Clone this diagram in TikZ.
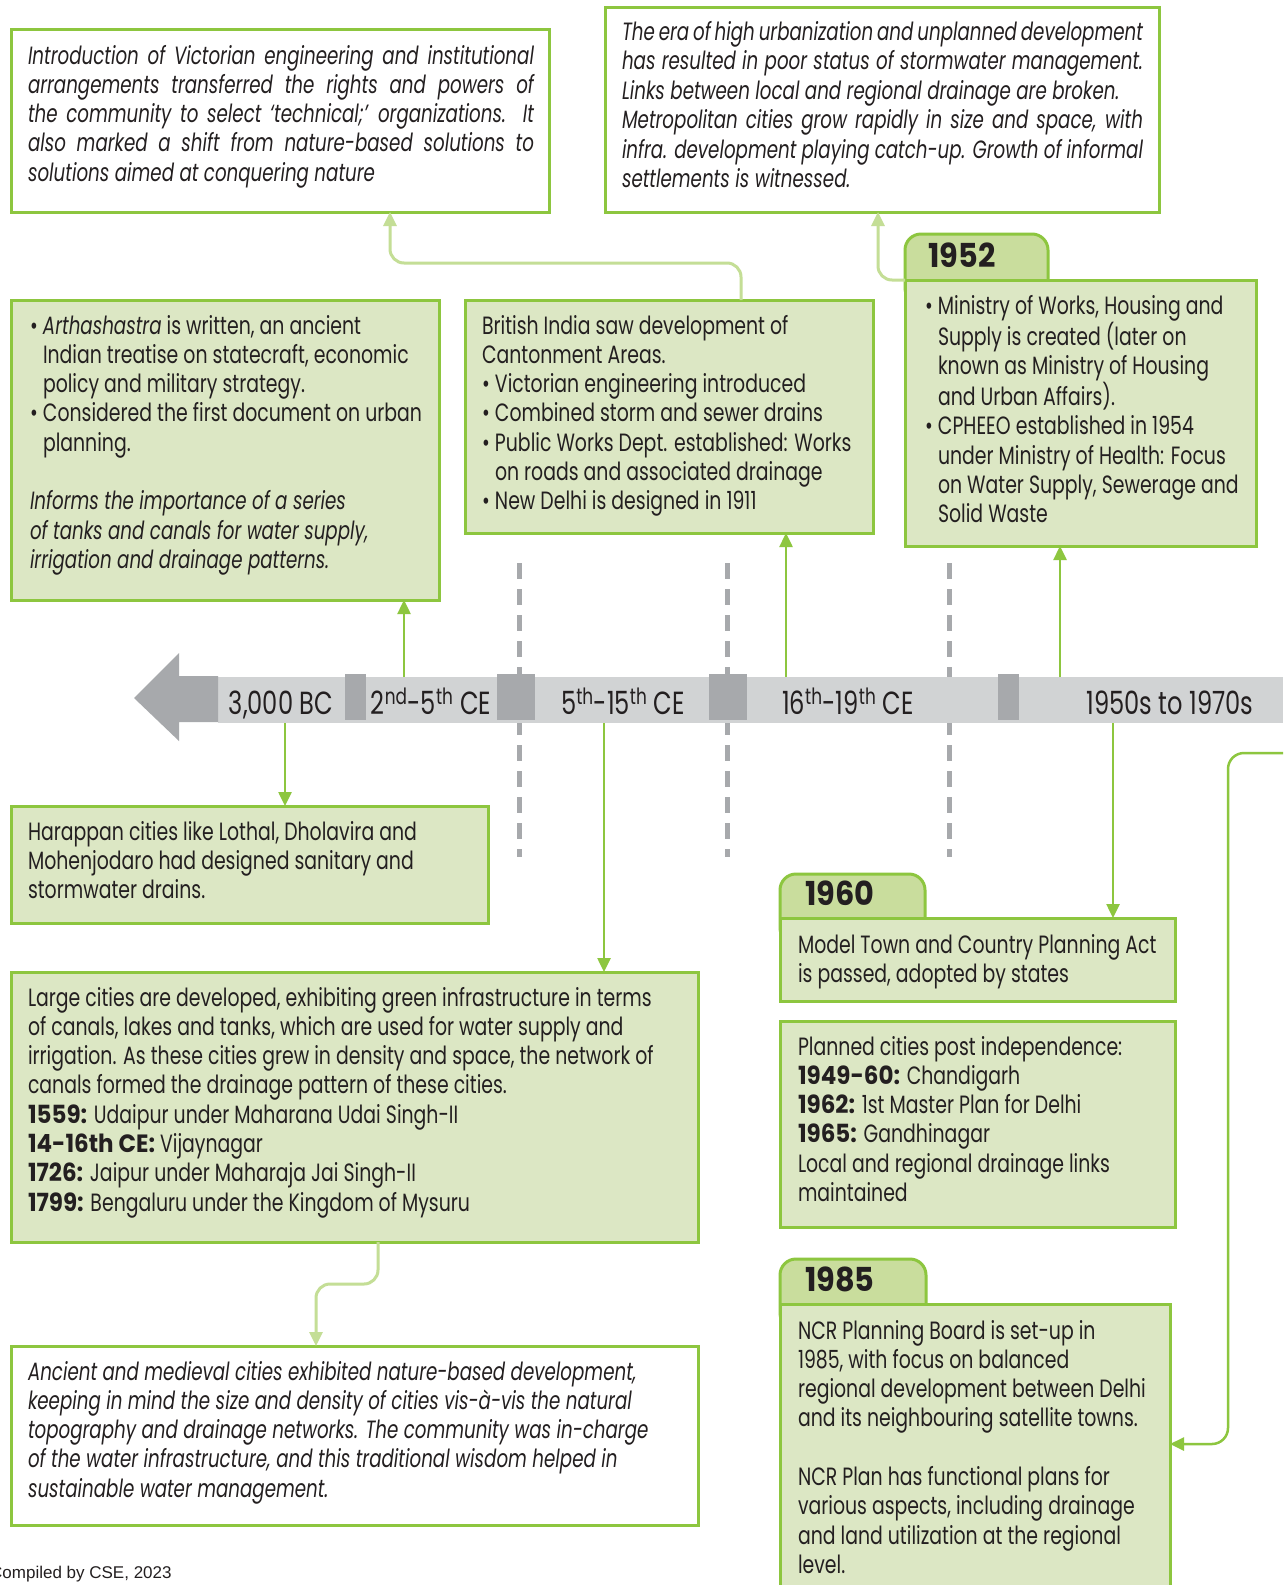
\documentclass[tikz,border=0pt]{standalone}
\usepackage{fontspec}
\setmainfont{Poppins}[FakeStretch=0.755]
\newfontface\heavyface{Poppins Bold}[FakeStretch=0.92]
\newfontface\slantface{Poppins Italic}[FakeStretch=0.73]
\newfontfamily\notefont{Liberation Sans}
\usetikzlibrary{arrows.meta}

\definecolor{leaf}{HTML}{8DC63F}
\definecolor{pale}{HTML}{DCE7C4}
\definecolor{sage}{HTML}{C9DD9D}
\definecolor{mist}{HTML}{C4DE96}
\definecolor{haze}{HTML}{D1D3D4}
\definecolor{slate}{HTML}{A7A9AC}
\definecolor{ink}{HTML}{231F20}

\newcommand\bodyfont{\fontsize{25}{29.3}\selectfont}
\newcommand\barfont{\fontsize{32}{35}\selectfont}
\newcommand\yearfont{\fontsize{33}{36}\selectfont\heavyface}
\newcommand\lead{\rule{0pt}{22pt}}
\newcommand\blt{\makebox[13pt][l]{\textbullet}}
\newcommand\ind{\hspace*{13pt}}
\newcommand\jl[1]{\makebox[506pt][s]{#1}}
\newcommand\jr[1]{\makebox[521pt][s]{#1}}
\newcommand\yr[1]{{\heavyface #1}}
\newcommand\tilt[1]{{\slantface #1}}

\begin{document}
\begin{tikzpicture}[x=1pt,y=-1pt,
  box/.style={draw=leaf,line width=3pt,fill=pale,anchor=north west,inner sep=0pt,outer sep=0pt},
  note/.style={box,fill=white},
  tab/.style={draw=leaf,line width=3pt,fill=sage,anchor=north west,inner sep=0pt,outer sep=0pt,rounded corners=16pt},
  txt/.style={anchor=north west,inner sep=0pt,outer sep=0pt,align=left,text=ink,font=\bodyfont},
  slant/.style={txt,font=\bodyfont\slantface},
  year/.style={anchor=base west,inner sep=0pt,text=ink,font=\yearfont},
  era/.style={anchor=base,inner sep=0pt,text=ink,font=\barfont},
  conn/.style={draw=leaf,line width=2.5pt,-{Triangle[length=14pt,width=13pt]}},
  soft/.style={draw=mist,line width=3pt,rounded corners=14pt,-{Triangle[length=14pt,width=13pt]}},
  gap/.style={draw=slate,line width=5pt,dash pattern=on 16pt off 10pt}]
\useasboundingbox (0,0) rectangle (1283,1585);
\fill[white] (0,0) rectangle (1283,1585);

% period separators behind the time bar
\draw[gap] (519,563) -- (519,857);
\draw[gap] (727,563) -- (727,857);
\draw[gap] (949,563) -- (949,857);

% time bar with arrow pointing to the past
\node[fill=haze,anchor=north west,inner sep=0pt,outer sep=0pt,minimum width=1065pt,minimum height=46pt] (bar) at (218,677) {};
\fill[slate] (134,698) -- (179,653) -- (179,676) -- (218,676) -- (218,722) -- (179,722) -- (179,741) -- cycle;
\fill[slate] (345,674) rectangle (366,720);
\fill[slate] (497,674) rectangle (535,720);
\fill[slate] (709,674) rectangle (747,720);
\fill[slate] (998,674) rectangle (1019,720);

\node[era] (e1) at (281,714) {3,000 BC};
\node[era] (e2) at (431,714) {2\textsuperscript{nd}-5\textsuperscript{th} CE};
\node[era] (e3) at (623,714) {5\textsuperscript{th}-15\textsuperscript{th} CE};
\node[era] (e4) at (848,714) {16\textsuperscript{th}-19\textsuperscript{th} CE};
\node[era] (e5) at (1170,714) {1950s to 1970s};

% upper boxes
\node[note,minimum width=538pt,minimum height=183pt] (b1) at (11,29) {};
\node[slant] (t1) at (28,42) {\lead\jl{Introduction of Victorian engineering and institutional}\\
\jl{arrangements transferred the rights and powers of}\\
\jl{the community to select ‘technical;’ organizations. It}\\
\jl{also marked a shift from nature-based solutions to}\\
solutions aimed at conquering nature};

\node[note,minimum width=554pt,minimum height=205pt] (b2) at (605,7) {};
\node[slant,font=\fontsize{25}{29.5}\selectfont\slantface] (t2) at (622,18) {\lead\jr{The era of high urbanization and unplanned development}\\
\jr{has resulted in poor status of stormwater management.}\\
Links between local and regional drainage are broken.\\
\jr{Metropolitan cities grow rapidly in size and space, with}\\
\jr{infra. development playing catch-up. Growth of informal}\\
settlements is witnessed.};

\node[box,minimum width=428pt,minimum height=300pt] (b3) at (11,300) {};
\node[txt] (t3) at (30,312) {\lead\blt\tilt{Arthashastra} is written, an ancient\\
\ind Indian treatise on statecraft, economic\\
\ind policy and military strategy.\\
\blt Considered the first document on urban\\
\ind planning.\\
\mbox{}\\
\tilt{Informs the importance of a series}\\
\tilt{of tanks and canals for water supply,}\\
\tilt{irrigation and drainage patterns.}};

\node[box,minimum width=408pt,minimum height=233pt] (b4) at (465,300) {};
\node[txt] (t4) at (482,312) {\lead British India saw development of\\
Cantonment Areas.\\
\blt Victorian engineering introduced\\
\blt Combined storm and sewer drains\\
\blt Public Works Dept. established: Works\\
\ind on roads and associated drainage\\
\blt New Delhi is designed in 1911};

\node[tab,minimum width=143pt,minimum height=70pt] (tab52) at (905,234) {};
\node[box,minimum width=351pt,minimum height=266pt] (b5) at (905,280) {};
\node[year] (y52) at (928,267) {1952};
\node[txt] (t5) at (925,292) {\lead\blt Ministry of Works, Housing and\\
\ind Supply is created (later on\\
\ind known as Ministry of Housing\\
\ind and Urban Affairs).\\
\blt CPHEEO established in 1954\\
\ind under Ministry of Health: Focus\\
\ind on Water Supply, Sewerage and\\
\ind Solid Waste};

% lower boxes
\node[box,minimum width=477pt,minimum height=117pt] (bh) at (11,806) {};
\node[txt] (th) at (28,818) {\lead Harappan cities like Lothal, Dholavira and\\
Mohenjodaro had designed sanitary and\\
stormwater drains.};

\node[box,minimum width=687pt,minimum height=270pt] (bl) at (11,972) {};
\node[txt] (tl) at (28,984) {\lead Large cities are developed, exhibiting green infrastructure in terms\\
of canals, lakes and tanks, which are used for water supply and\\
irrigation. As these cities grew in density and space, the network of\\
canals formed the drainage pattern of these cities.\\
\yr{1559:} Udaipur under Maharana Udai Singh-II\\
\yr{14-16th CE:} Vijaynagar\\
\yr{1726:} Jaipur under Maharaja Jai Singh-II\\
\yr{1799:} Bengaluru under the Kingdom of Mysuru};

\node[note,minimum width=687pt,minimum height=179pt] (ba) at (11,1346) {};
\node[slant] (ta) at (28,1358) {\lead Ancient and medieval cities exhibited nature-based development,\\
keeping in mind the size and density of cities vis-à-vis the natural\\
topography and drainage networks. The community was in-charge\\
of the water infrastructure, and this traditional wisdom helped in\\
sustainable water management.};

\node[tab,minimum width=145pt,minimum height=70pt] (tab60) at (780,874) {};
\node[box,minimum width=395pt,minimum height=83pt] (b60) at (780,918) {};
\node[year] (y60) at (805,905) {1960};
\node[txt] (t60) at (798,931) {\lead Model Town and Country Planning Act\\
is passed, adopted by states};

\node[box,minimum width=395pt,minimum height=206pt] (bp) at (780,1021) {};
\node[txt] (tp) at (798,1033) {\lead Planned cities post independence:\\
\yr{1949-60:} Chandigarh\\
\yr{1962:} 1st Master Plan for Delhi\\
\yr{1965:} Gandhinagar\\
Local and regional drainage links\\
maintained};

\node[tab,minimum width=146pt,minimum height=70pt] (tab85) at (780,1259) {};
\node[box,minimum width=390pt,minimum height=320pt] (b85) at (780,1304) {};
\node[year] (y85) at (805,1291) {1985};
\node[txt] (t85) at (798,1317) {\lead NCR Planning Board is set-up in\\
1985, with focus on balanced\\
regional development between Delhi\\
and its neighbouring satellite towns.\\
\mbox{}\\
NCR Plan has functional plans for\\
various aspects, including drainage\\
and land utilization at the regional\\
level.};

% links from the time bar
\draw[conn] (285,0 |- bar.south) -- (285,0 |- bh.north);
\draw[conn] (404,0 |- bar.north) -- (404,0 |- b3.south);
\draw[conn] (604,0 |- bar.south) -- (604,0 |- bl.north);
\draw[conn] (786,0 |- bar.north) -- (786,0 |- b4.south);
\draw[conn] (1060,0 |- bar.north) -- (1060,0 |- b5.south);
\draw[conn] (1113,0 |- bar.south) -- (1113,0 |- b60.north);

% links between boxes
\draw[soft] (741,0 |- b4.north) -- (741,263) -- (390,263) -- (390,0 |- b1.south);
\draw[soft] (b5.north west) -- (878,0 |- b5.north west) -- (878,0 |- b2.south);
\draw[soft] (378,0 |- bl.south) -- (378,1284) -- (316,1284) -- (316,0 |- ba.north);
\coordinate (edge) at (1283,753);
\draw[conn,rounded corners=16pt] (edge) -- (1228,753) -- (1228,1444) -- (b85.east |- 0,1444);

\node[anchor=base west,inner sep=0pt,text=ink,font=\notefont\fontsize{17}{20}\selectfont] (credit) at (-10,1578) {Compiled by CSE, 2023};
\end{tikzpicture}
\end{document}
